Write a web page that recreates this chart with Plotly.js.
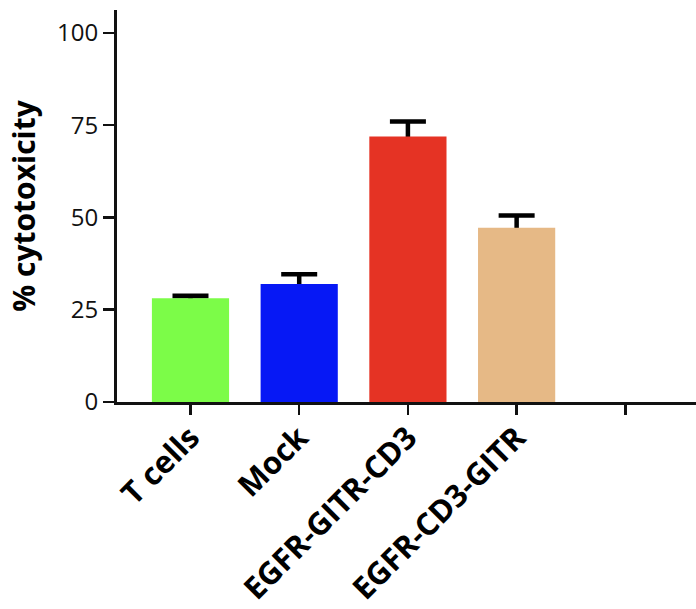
<!DOCTYPE html>
<html>
<head>
<meta charset="utf-8">
<script src="https://cdn.plot.ly/plotly-3.0.1.min.js"></script>
<style>html,body{margin:0;padding:0;background:#fff;}#chart{width:696px;height:609px;}</style>
</head>
<body>
<div id="chart"></div>
<script>
const categories = ["T cells", "Mock", "EGFR-GITR-CD3", "EGFR-CD3-GITR", ""];
const values = [28.1, 32.0, 71.9, 47.2, null];
const errors = [0.7, 2.6, 4.1, 3.3, null];
const colors = ["#7CFC48", "#0618F5", "#E53324", "#E6B986", "#ffffff"];
const yTicks = [0, 25, 50, 75, 100];

const positions = categories.map((c, i) => i);
const xRange = [-0.676, 4.65];
const yRange = [0, 106.2];

// error bars (drawn underneath the bars so only the upper half shows)
const errTrace = {
  type: "scatter", mode: "markers",
  x: positions, y: values,
  marker: {size: 1, opacity: 0},
  error_y: {type: "data", array: errors, visible: true, color: "#000", thickness: 4.5, width: 18},
  xaxis: "x", yaxis: "y",
  hoverinfo: "none"
};

const barTrace = {
  type: "bar",
  x: positions, y: values,
  width: 0.71,
  marker: {color: colors, line: {width: 0}},
  xaxis: "x2", yaxis: "y2",
  hoverinfo: "none"
};

const layout = {
  width: 696, height: 609,
  margin: {l: 117, r: 0, t: 10, b: 207},
  paper_bgcolor: "#fff", plot_bgcolor: "rgba(0,0,0,0)",
  showlegend: false,
  font: {family: "'Open Sans', Lato, sans-serif", color: "#111"},
  xaxis: {
    range: xRange,
    tickmode: "array", tickvals: positions, ticktext: categories,
    tickangle: -45,
    ticks: "outside", ticklen: 10, tickwidth: 2.5, tickcolor: "#111",
    ticklabelstandoff: -8,
    showline: true, linecolor: "#111", linewidth: 3,
    showgrid: false, zeroline: false,
    tickfont: {family: "'Open Sans', sans-serif", size: 31, color: "#000", weight: "bold"}
  },
  yaxis: {
    range: yRange,
    tickmode: "array", tickvals: yTicks,
    ticks: "outside", ticklen: 11, tickwidth: 2.5, tickcolor: "#111",
    showline: true, linecolor: "#111", linewidth: 3,
    showgrid: false, zeroline: false,
    tickfont: {family: "'Open Sans', sans-serif", size: 24, color: "#111"},
    title: {text: "<b>% cytotoxicity</b>", font: {family: "'Open Sans', sans-serif", size: 30, color: "#000"}, standoff: 13}
  },
  xaxis2: {range: xRange, overlaying: "x", visible: false},
  yaxis2: {range: yRange, overlaying: "y", visible: false}
};

Plotly.newPlot("chart", [errTrace, barTrace], layout, {displayModeBar: false, staticPlot: true});
</script>
</body>
</html>
